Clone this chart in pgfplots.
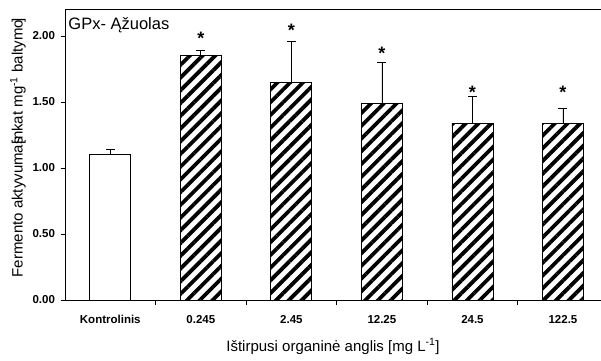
\documentclass[border=0pt]{standalone}
\usepackage{fontspec}
\setmainfont{Liberation Sans}
\usepackage{pgfplots}
\pgfplotsset{compat=1.18}
\usetikzlibrary{patterns.meta}
\begin{document}
\begin{tikzpicture}[x=1bp,y=1bp]
\path[use as bounding box] (0,0) rectangle (601,360);
\begin{axis}[
  at={(65bp,60bp)}, anchor=south west,
  scale only axis, width=536bp, height=290.5bp,
  xmin=-0.5, xmax=5.42, ymin=0, ymax=2.2,
  axis x line=box, axis y line=left,
  axis line style={-, line width=0.8bp},
  xtick={0.5,1.5,2.5,3.5,4.5}, xticklabels={},
  extra x ticks={0,1,2,3,4,5},
  extra x tick labels={Kontrolinis,0.245,2.45,12.25,24.5,122.5},
  extra x tick style={major tick length=0pt},
  xtick pos=bottom, ytick pos=left,
  ytick={0,0.5,1,1.5,2},
  tick align=outside, major tick length=4.5bp,
  tick style={black, line width=0.8bp},
  /pgf/number format/fixed, /pgf/number format/fixed zerofill,
  /pgf/number format/precision=2, /pgf/number format/assume math mode=true,
  ticklabel style={font=\fontsize{11.5bp}{13bp}\selectfont\bfseries},
  xticklabel style={yshift=-12bp},
  yticklabel style={xshift=-2bp},
  xlabel={Ištirpusi organinė anglis [mg L\textsuperscript{-1}]},
  ylabel={Fermento aktyvumas\kern-0.45em[nkat mg\textsuperscript{-1} baltymo\kern-0.2em]},
  label style={font=\fontsize{15bp}{17bp}\selectfont},
  xlabel style={at={(rel axis cs:0.5,0)}, anchor=base, yshift=-51bp},
  ylabel style={at={(rel axis cs:0,0.523)}, anchor=center, yshift=47bp},
  ybar, bar width=41bp, bar shift=0pt,
  clip=false,
]
\addplot[draw=black, line width=0.8bp, fill=white,
  error bars/.cd, y dir=plus, y explicit,
  error bar style={black, line width=0.8bp},
  error mark options={rotate=90, mark size=4.5bp, line width=0.8bp}]
  coordinates {(0,1.10) +- (0,0.04)};
\addplot[draw=black, line width=0.8bp, fill=white,
  postaction={pattern={Lines[angle=45, distance=9bp, line width=3.8bp]}},
  error bars/.cd, y dir=plus, y explicit,
  error bar style={black, line width=0.8bp},
  error mark options={rotate=90, mark size=4.5bp, line width=0.8bp}]
  coordinates {
  (1,1.85) +- (0,0.04)
  (2,1.65) +- (0,0.31)
  (3,1.49) +- (0,0.31)
  (4,1.34) +- (0,0.20)
  (5,1.34) +- (0,0.11)
  };
\node[font=\fontsize{18bp}{18bp}\selectfont\bfseries] at (axis cs:1,1.98) {*};
\node[font=\fontsize{18bp}{18bp}\selectfont\bfseries] at (axis cs:2,2.04) {*};
\node[font=\fontsize{18bp}{18bp}\selectfont\bfseries] at (axis cs:3,1.87) {*};
\node[font=\fontsize{18bp}{18bp}\selectfont\bfseries] at (axis cs:4,1.575) {*};
\node[font=\fontsize{18bp}{18bp}\selectfont\bfseries] at (axis cs:5,1.57) {*};
\node[anchor=base west, font=\fontsize{16.5bp}{18bp}\selectfont, inner sep=0pt] at (rel axis cs:0.006,0.93) {GPx- Ąžuolas};
\end{axis}
\end{tikzpicture}
\end{document}
